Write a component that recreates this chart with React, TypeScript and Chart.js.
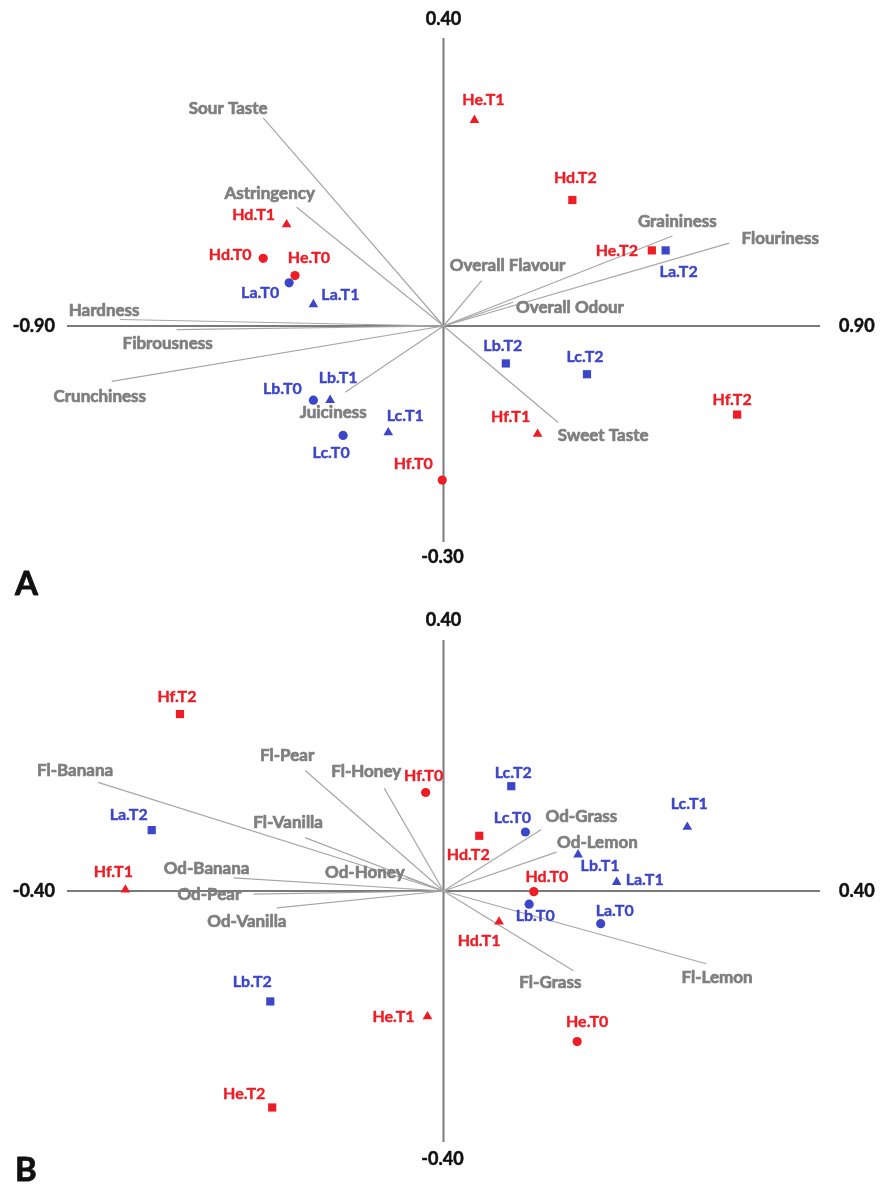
import React, { useEffect, useRef } from 'react';
import { Chart, registerables } from 'chart.js';

Chart.register(...registerables);

// ---------- Panel A data ----------
const A_X_RANGE = [-0.9, 0.9];
const A_Y_RANGE = [-0.3, 0.4];
const A_SAMPLES = ['He.T1', 'Hd.T2', 'He.T2', 'La.T2', 'Hd.T1', 'Hd.T0', 'He.T0', 'La.T0', 'La.T1', 'Lb.T0', 'Lb.T1', 'Lc.T0', 'Lc.T1', 'Hf.T0', 'Lb.T2', 'Lc.T2', 'Hf.T1', 'Hf.T2'];
const A_SAMPLE_X = [0.074, 0.308, 0.498, 0.531, -0.375, -0.431, -0.355, -0.369, -0.311, -0.311, -0.271, -0.240, -0.132, -0.003, 0.149, 0.343, 0.225, 0.702];
const A_SAMPLE_Y = [0.286, 0.175, 0.105, 0.105, 0.141, 0.094, 0.070, 0.060, 0.030, -0.103, -0.103, -0.152, -0.148, -0.214, -0.052, -0.067, -0.150, -0.123];
const A_VARS = ['Sour Taste', 'Astringency', 'Hardness', 'Fibrousness', 'Crunchiness', 'Juiciness', 'Sweet Taste', 'Overall Flavour', 'Graininess', 'Flouriness', 'Overall Odour'];
const A_VAR_X = [-0.431, -0.351, -0.773, -0.638, -0.793, -0.235, 0.274, 0.091, 0.547, 0.683, 0.166];
const A_VAR_Y = [0.289, 0.165, 0.009, -0.005, -0.077, -0.092, -0.134, 0.063, 0.125, 0.115, 0.033];

// label placement (pixel offsets of label centre from its mark)
const A_SAMPLE_LABEL_OFFSET = [[9, -20], [3, -22], [-35, 0], [13, 21], [-33, -10], [-33, -3], [14, -18], [-29, 10], [27, -10], [-31, -11], [8, -22], [-12, 17], [17, -17], [-29, -16], [-3, -18], [-2, -17], [-27, -17], [-5, -15]];
const A_VAR_LABEL_OFFSET = [[-35, -9], [-27, -14], [-16, -9], [-9, 14], [-12, 15], [-12, 20], [45, 13], [26, -15], [5, -14], [51, -5], [57, 5]];

// ---------- Panel B data ----------
const B_X_RANGE = [-0.4, 0.4];
const B_Y_RANGE = [-0.4, 0.4];
const B_SAMPLES = ['Hf.T2', 'La.T2', 'Hf.T1', 'Hf.T0', 'Lc.T2', 'Lc.T0', 'Hd.T2', 'Lc.T1', 'Lb.T1', 'La.T1', 'Hd.T0', 'Lb.T0', 'La.T0', 'Hd.T1', 'He.T0', 'He.T1', 'Lb.T2', 'He.T2'];
const B_SAMPLE_X = [-0.280, -0.310, -0.338, -0.019, 0.072, 0.087, 0.038, 0.259, 0.143, 0.184, 0.096, 0.091, 0.167, 0.059, 0.142, -0.017, -0.184, -0.182];
const B_SAMPLE_Y = [0.282, 0.097, 0.002, 0.157, 0.167, 0.094, 0.088, 0.102, 0.058, 0.014, -0.001, -0.021, -0.052, -0.049, -0.240, -0.200, -0.176, -0.345];
const B_VARS = ['Fl-Banana', 'Fl-Pear', 'Fl-Honey', 'Fl-Vanilla', 'Od-Banana', 'Od-Honey', 'Od-Pear', 'Od-Vanilla', 'Od-Grass', 'Od-Lemon', 'Fl-Grass', 'Fl-Lemon'];
const B_VAR_X = [-0.367, -0.147, -0.063, -0.147, -0.223, -0.040, -0.202, -0.177, 0.104, 0.120, 0.138, 0.279];
const B_VAR_Y = [0.173, 0.192, 0.164, 0.085, 0.021, 0.022, -0.005, -0.027, 0.098, 0.062, -0.127, -0.116];

const B_SAMPLE_LABEL_OFFSET = [[-3, -17], [-23, -15], [-12, -18], [-2, -17], [2, -13], [-13, -14], [-11, 19], [2, -23], [22, 11], [28, -2], [13, -15], [6, 12], [14, -13], [-20, 19], [10, -20], [-34, 0], [-18, -20], [-28, -14]];
const B_VAR_LABEL_OFFSET = [[-23, -12], [-18, -15], [-18, -17], [-17, -15], [-27, -9], [-41, -5], [-44, 0], [-30, 14], [40, -13], [41, -10], [-23, 12], [11, 14]];

// ---------- styles ----------
const RED = '#EE1C24';
const BLUE = '#3C46C8';
const GRAY_TEXT = '#7F7F7F';
const GRAY_LINE = '#A6A6A6';
const AXIS_COLOR = '#7A7A7A';
const FONT = 'Lato, "Open Sans", sans-serif';

function shapeOf(name: string) {
  if (name.endsWith('T0')) return 'circle';
  if (name.endsWith('T1')) return 'triangle';
  return 'rect';
}
function radiusOf(name: string) {
  const s = shapeOf(name);
  if (s === 'circle') return 4.6;
  if (s === 'triangle') return 5.6;
  return 5.8;
}
function colorOf(name: string) {
  return name[0] === 'H' ? RED : BLUE;
}
const fmt = (v: number) => v.toFixed(2);

function boldText(ctx: any, text: string, x: number, y: number, color: string, extra: number) {
  ctx.fillStyle = color;
  ctx.fillText(text, x, y);
  if (extra > 0) {
    ctx.strokeStyle = color;
    ctx.lineWidth = extra;
    ctx.lineJoin = 'round';
    ctx.strokeText(text, x, y);
  }
}

type PanelProps = {
  letter: string;
  height: number;
  padding: { left: number; right: number; top: number; bottom: number };
  tickGap: { top: number; bottom: number; left: number; right: number };
  xRange: number[];
  yRange: number[];
  samples: string[];
  sx: number[];
  sy: number[];
  sOff: number[][];
  vars: string[];
  vx: number[];
  vy: number[];
  vOff: number[][];
};

function Panel(p: PanelProps) {
  const ref = useRef<HTMLCanvasElement>(null);
  useEffect(() => {
    if (!ref.current) return;
    const labelPlugin = {
      id: 'biplotLabels',
      afterDatasetsDraw(chart: any) {
        const ctx = chart.ctx;
        const xs = chart.scales.x;
        const ys = chart.scales.y;
        ctx.save();
        ctx.textAlign = 'center';
        ctx.textBaseline = 'middle';
        ctx.font = `bold 17px ${FONT}`;
        p.vars.forEach((n, i) => {
          boldText(ctx, n, xs.getPixelForValue(p.vx[i]) + p.vOff[i][0], ys.getPixelForValue(p.vy[i]) + p.vOff[i][1], GRAY_TEXT, 0.7);
        });
        ctx.font = `bold 16px ${FONT}`;
        p.samples.forEach((n, i) => {
          boldText(ctx, n, xs.getPixelForValue(p.sx[i]) + p.sOff[i][0], ys.getPixelForValue(p.sy[i]) + p.sOff[i][1], colorOf(n), 0.4);
        });
        // axis end labels
        ctx.font = `bold 18px ${FONT}`;
        const x0 = xs.getPixelForValue(0);
        const y0 = ys.getPixelForValue(0);
        ctx.textAlign = 'center';
        boldText(ctx, fmt(p.yRange[1]), x0, ys.getPixelForValue(p.yRange[1]) - p.tickGap.top, '#111111', 0.5);
        boldText(ctx, fmt(p.yRange[0]), x0 - 1, ys.getPixelForValue(p.yRange[0]) + p.tickGap.bottom, '#111111', 0.5);
        ctx.textAlign = 'right';
        boldText(ctx, fmt(p.xRange[0]), xs.getPixelForValue(p.xRange[0]) - p.tickGap.left, y0, '#111111', 0.5);
        ctx.textAlign = 'left';
        boldText(ctx, fmt(p.xRange[1]), xs.getPixelForValue(p.xRange[1]) + p.tickGap.right, y0, '#111111', 0.5);
        // panel letter
        ctx.font = `bold 33px ${FONT}`;
        ctx.textAlign = 'left';
        ctx.textBaseline = 'alphabetic';
        boldText(ctx, p.letter, 15, chart.height - 5, '#111111', 0.8);
        ctx.restore();
      },
    };

    const datasets: any[] = [];
    datasets.push({
      type: 'scatter',
      data: p.samples.map((n, i) => ({ x: p.sx[i], y: p.sy[i] })),
      pointStyle: p.samples.map(shapeOf),
      pointRadius: p.samples.map(radiusOf),
      backgroundColor: p.samples.map(colorOf),
      borderColor: p.samples.map(colorOf),
      borderWidth: 0,
      order: 0,
      clip: false,
    });
    p.vars.forEach((_, i) => {
      datasets.push({
        type: 'line',
        data: [{ x: 0, y: 0 }, { x: p.vx[i], y: p.vy[i] }],
        borderColor: GRAY_LINE,
        borderWidth: 1.2,
        pointRadius: 0,
        fill: false,
        order: 1,
        clip: false,
      });
    });
    datasets.push({
      type: 'line',
      data: [{ x: p.xRange[0], y: 0 }, { x: p.xRange[1], y: 0 }],
      borderColor: AXIS_COLOR,
      borderWidth: 2,
      pointRadius: 0,
      order: 2,
      clip: false,
    });
    datasets.push({
      type: 'line',
      data: [{ x: 0, y: p.yRange[0] }, { x: 0, y: p.yRange[1] }],
      borderColor: AXIS_COLOR,
      borderWidth: 2,
      pointRadius: 0,
      order: 2,
      clip: false,
    });

    const chart = new Chart(ref.current, {
      type: 'scatter',
      data: { datasets },
      options: {
        animation: false,
        responsive: false,
        maintainAspectRatio: false,
        devicePixelRatio: 1,
        layout: { padding: p.padding },
        plugins: { legend: { display: false }, tooltip: { enabled: false } },
        events: [],
        scales: {
          x: { type: 'linear', min: p.xRange[0], max: p.xRange[1], display: false },
          y: { type: 'linear', min: p.yRange[0], max: p.yRange[1], display: false },
        },
      } as any,
      plugins: [labelPlugin],
    });
    return () => chart.destroy();
  }, []);
  return <canvas ref={ref} width={880} height={p.height} style={{ display: 'block', width: 880, height: p.height }} />;
}

export default function App() {
  return (
    <div style={{ position: 'absolute', left: 0, top: 0, width: 880, height: 1186, background: '#ffffff' }}>
      <Panel
        letter="A"
        height={600}
        padding={{ left: 67, right: 60, top: 38, bottom: 58 }}
        tickGap={{ top: 19, bottom: 15, left: 12, right: 19 }}
        xRange={A_X_RANGE}
        yRange={A_Y_RANGE}
        samples={A_SAMPLES}
        sx={A_SAMPLE_X}
        sy={A_SAMPLE_Y}
        sOff={A_SAMPLE_LABEL_OFFSET}
        vars={A_VARS}
        vx={A_VAR_X}
        vy={A_VAR_Y}
        vOff={A_VAR_LABEL_OFFSET}
      />
      <Panel
        letter="B"
        height={586}
        padding={{ left: 67, right: 60, top: 40, bottom: 44 }}
        tickGap={{ top: 20, bottom: 17, left: 12, right: 19 }}
        xRange={B_X_RANGE}
        yRange={B_Y_RANGE}
        samples={B_SAMPLES}
        sx={B_SAMPLE_X}
        sy={B_SAMPLE_Y}
        sOff={B_SAMPLE_LABEL_OFFSET}
        vars={B_VARS}
        vx={B_VAR_X}
        vy={B_VAR_Y}
        vOff={B_VAR_LABEL_OFFSET}
      />
    </div>
  );
}
